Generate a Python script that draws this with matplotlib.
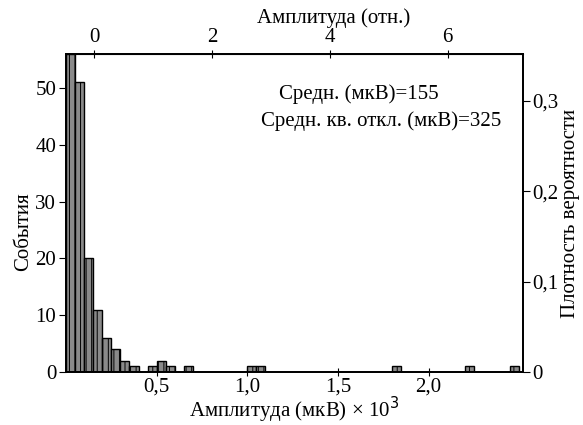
import numpy as np
import matplotlib
matplotlib.use("Agg")
import matplotlib.pyplot as plt

plt.rcParams['font.family'] = ['Liberation Serif', 'DejaVu Serif']
plt.rcParams['hatch.linewidth'] = 0.7

# histogram, bins of 0.05 x10^3 uV (left edges)
bin_left = [0.00, 0.05, 0.10, 0.15, 0.20, 0.25, 0.30, 0.35,
            0.45, 0.50, 0.55, 0.65, 1.00, 1.05, 1.80, 2.20, 2.45]
counts   = [56, 51, 20, 11, 6, 4, 2, 1,
            1, 2, 1, 1, 1, 1, 1, 1, 1]
BIN_W = 0.05

MEAN_UV = 155
STD_UV = 325

bottom_ticks = [0.5, 1.0, 1.5, 2.0]
bottom_labels = ["0,5", "1,0", "1,5", "2,0"]
top_ticks = [0, 2, 4, 6]
left_ticks = [0, 10, 20, 30, 40, 50]
right_ticks = [0, 0.1, 0.2, 0.3]
right_labels = ["0", "0,1", "0,2", "0,3"]

FS = 15

fig = plt.figure(figsize=(5.83, 4.25), dpi=100)
ax = fig.add_axes([0.1132, 0.1247, 0.7838, 0.7483])

ax.bar(bin_left, counts, width=BIN_W, align='edge', color='#8a8a8a',
       edgecolor='black', linewidth=1.0, hatch='|||')
ax.set_xlim(0, 2.52)
ax.set_ylim(0, 56)

ax.set_xticks(bottom_ticks)
ax.set_xticklabels(bottom_labels)
ax.set_yticks(left_ticks)
ax.tick_params(axis='x', direction='inout', length=6, labelsize=FS, pad=1)
ax.tick_params(axis='y', direction='out', length=5, labelsize=FS, pad=2)
for s in ax.spines.values():
    s.set_linewidth(1.3)

ax.set_xlabel("Амплитуда (мкВ) × 10$^3$", fontsize=FS, labelpad=-1)
ax.set_ylabel("События", fontsize=FS)
ax.yaxis.set_label_coords(-0.072, 0.44)

# top axis: amplitude relative to mean in units of std
m, s = MEAN_UV / 1000, STD_UV / 1000
top = ax.secondary_xaxis('top', functions=(lambda x: (x - m) / s,
                                           lambda r: r * s + m))
top.set_xticks(top_ticks)
top.tick_params(direction='inout', length=6, labelsize=FS, pad=2)
fig.text(334 / 583, 1 - 18 / 425, "Амплитуда (отн.)", fontsize=FS,
         ha='center', va='center')

# right axis: probability density
ax2 = ax.twinx()
ax2.set_ylim(0, 0.352)
ax2.set_yticks(right_ticks)
ax2.set_yticklabels(right_labels)
ax2.tick_params(direction='out', length=5, labelsize=FS, pad=2)
ax2.set_ylabel("Плотность вероятности", fontsize=FS)
ax2.yaxis.set_label_coords(1.083, 0.5)
for sp in ax2.spines.values():
    sp.set_linewidth(1.3)

ax.text(0.64, 0.875, f"Средн. (мкВ)={MEAN_UV}", transform=ax.transAxes,
        ha='center', va='center', fontsize=FS)
ax.text(0.69, 0.79, f"Средн. кв. откл. (мкВ)={STD_UV}", transform=ax.transAxes,
        ha='center', va='center', fontsize=FS)

fig.savefig("out.png", dpi=100)
